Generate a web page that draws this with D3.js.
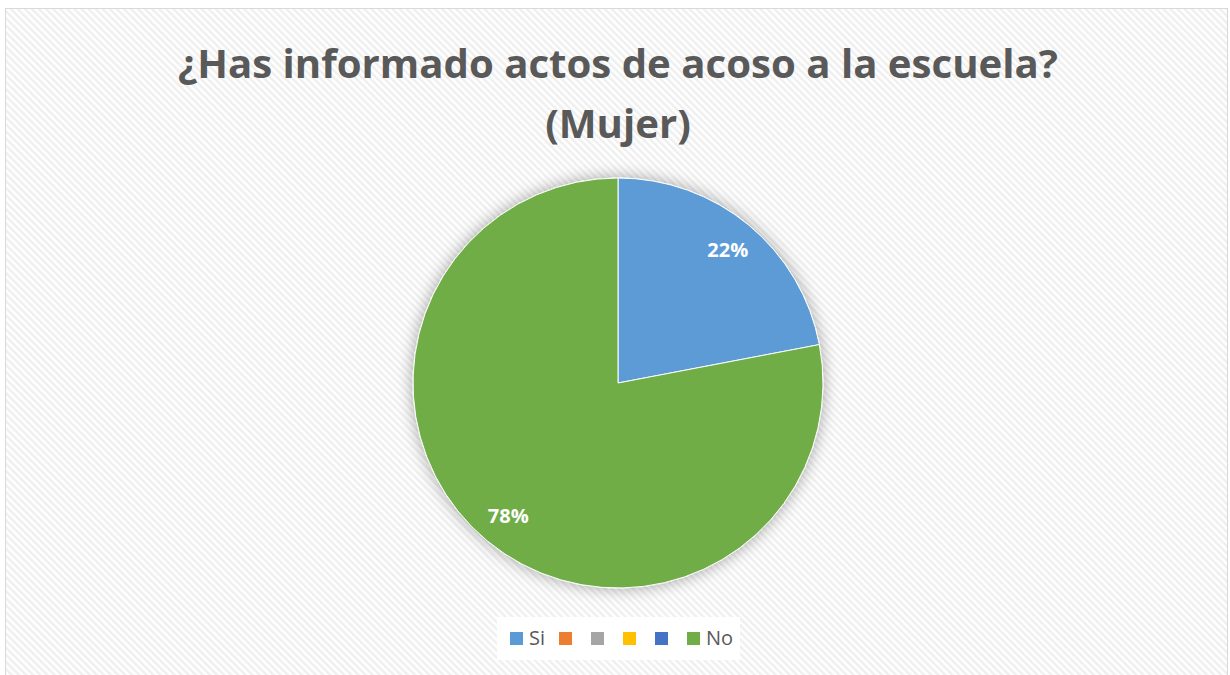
<!DOCTYPE html>
<html>
<head>
<meta charset="utf-8">
<script src="https://cdn.jsdelivr.net/npm/d3@7"></script>
<style>
  body { margin: 0; background: #fff; }
  svg { display: block; }
</style>
</head>
<body>
<svg id="chart" width="1230" height="675"></svg>
<script>
var categories = ["Si", "", "", "", "", "No"];
var values = [22, 0, 0, 0, 0, 78];
var colors = ["#5B9BD5", "#ED7D31", "#A5A5A5", "#FFC000", "#4472C4", "#70AD47"];
var titleLines = ["¿Has informado actos de acoso a la escuela?", "(Mujer)"];

var svg = d3.select("#chart");

// striped background pattern
var defs = svg.append("defs");
var pat = defs.append("pattern")
    .attr("id", "stripes")
    .attr("patternUnits", "userSpaceOnUse")
    .attr("width", 5)
    .attr("height", 5)
    .attr("patternTransform", "rotate(-45)");
pat.append("rect").attr("width", 5).attr("height", 5).attr("fill", "#ffffff");
pat.append("rect").attr("width", 2.5).attr("height", 5).attr("fill", "#efefef");

var shadow = defs.append("filter")
    .attr("id", "shadow")
    .attr("x", "-20%").attr("y", "-20%")
    .attr("width", "140%").attr("height", "140%");
shadow.append("feGaussianBlur").attr("in", "SourceAlpha").attr("stdDeviation", 8).attr("result", "blur");
shadow.append("feComponentTransfer").attr("in", "blur").attr("result", "soft")
  .append("feFuncA").attr("type", "linear").attr("slope", 0.35);
var merge = shadow.append("feMerge");
merge.append("feMergeNode").attr("in", "soft");
merge.append("feMergeNode").attr("in", "SourceGraphic");

svg.append("rect")
    .attr("x", 5.5).attr("y", 8.5)
    .attr("width", 1222).attr("height", 670)
    .attr("fill", "url(#stripes)")
    .attr("stroke", "#d9d9d9")
    .attr("stroke-width", 1);

// title
var title = svg.append("g").attr("class", "title");
titleLines.forEach(function(t, i) {
  title.append("text")
    .attr("x", 618)
    .attr("y", 78 + i * 60)
    .attr("text-anchor", "middle")
    .attr("font-family", "'Open Sans', sans-serif")
    .attr("font-weight", "bold")
    .attr("font-size", 40)
    .attr("fill", "#595959")
    .text(t);
});
// fit first line to the reference width
var first = title.select("text").node();
var w = first.getComputedTextLength();
var fs = 40 * 880 / w;
title.selectAll("text").attr("font-size", Math.min(fs, 44));

// pie
var cx = 618, cy = 383, radius = 205;
var pie = d3.pie().sort(null).value(function(d) { return d; });
var arc = d3.arc().innerRadius(0).outerRadius(radius);
var labelArc = d3.arc().innerRadius(radius * 0.84).outerRadius(radius * 0.84);

var arcs = pie(values);
var g = svg.append("g").attr("transform", "translate(" + cx + "," + cy + ")");

g.append("g").attr("filter", "url(#shadow)")
  .selectAll("path")
  .data(arcs.filter(function(d) { return d.value > 0; }))
  .enter().append("path")
    .attr("d", arc)
    .attr("fill", function(d) { return colors[d.index]; })
    .attr("stroke", "#ffffff")
    .attr("stroke-width", 1);

g.selectAll("text.label")
  .data(arcs.filter(function(d) { return d.value > 0; }))
  .enter().append("text")
    .attr("class", "label")
    .attr("transform", function(d) { return "translate(" + labelArc.centroid(d) + ")"; })
    .attr("text-anchor", "middle")
    .attr("dy", "0.35em")
    .attr("font-family", "'Open Sans', sans-serif")
    .attr("font-weight", "bold")
    .attr("font-size", 20)
    .attr("fill", "#ffffff")
    .text(function(d) { return d.value + "%"; });

// legend
var legend = svg.append("g").attr("class", "legend");
legend.append("rect")
    .attr("x", 497).attr("y", 617)
    .attr("width", 243).attr("height", 43)
    .attr("fill", "#ffffff");

var legendX = [510, 559, 591, 623, 655, 687];
var items = legend.selectAll("g.item")
  .data(categories)
  .enter().append("g")
    .attr("class", "item")
    .attr("transform", function(d, i) { return "translate(" + legendX[i] + ",632)"; });
items.append("rect")
    .attr("width", 13).attr("height", 13)
    .attr("fill", function(d, i) { return colors[i]; });
items.append("text")
    .attr("x", 19).attr("y", 13)
    .attr("font-family", "'Open Sans', sans-serif")
    .attr("font-size", 20)
    .attr("fill", "#595959")
    .text(function(d) { return d; });
</script>
</body>
</html>
